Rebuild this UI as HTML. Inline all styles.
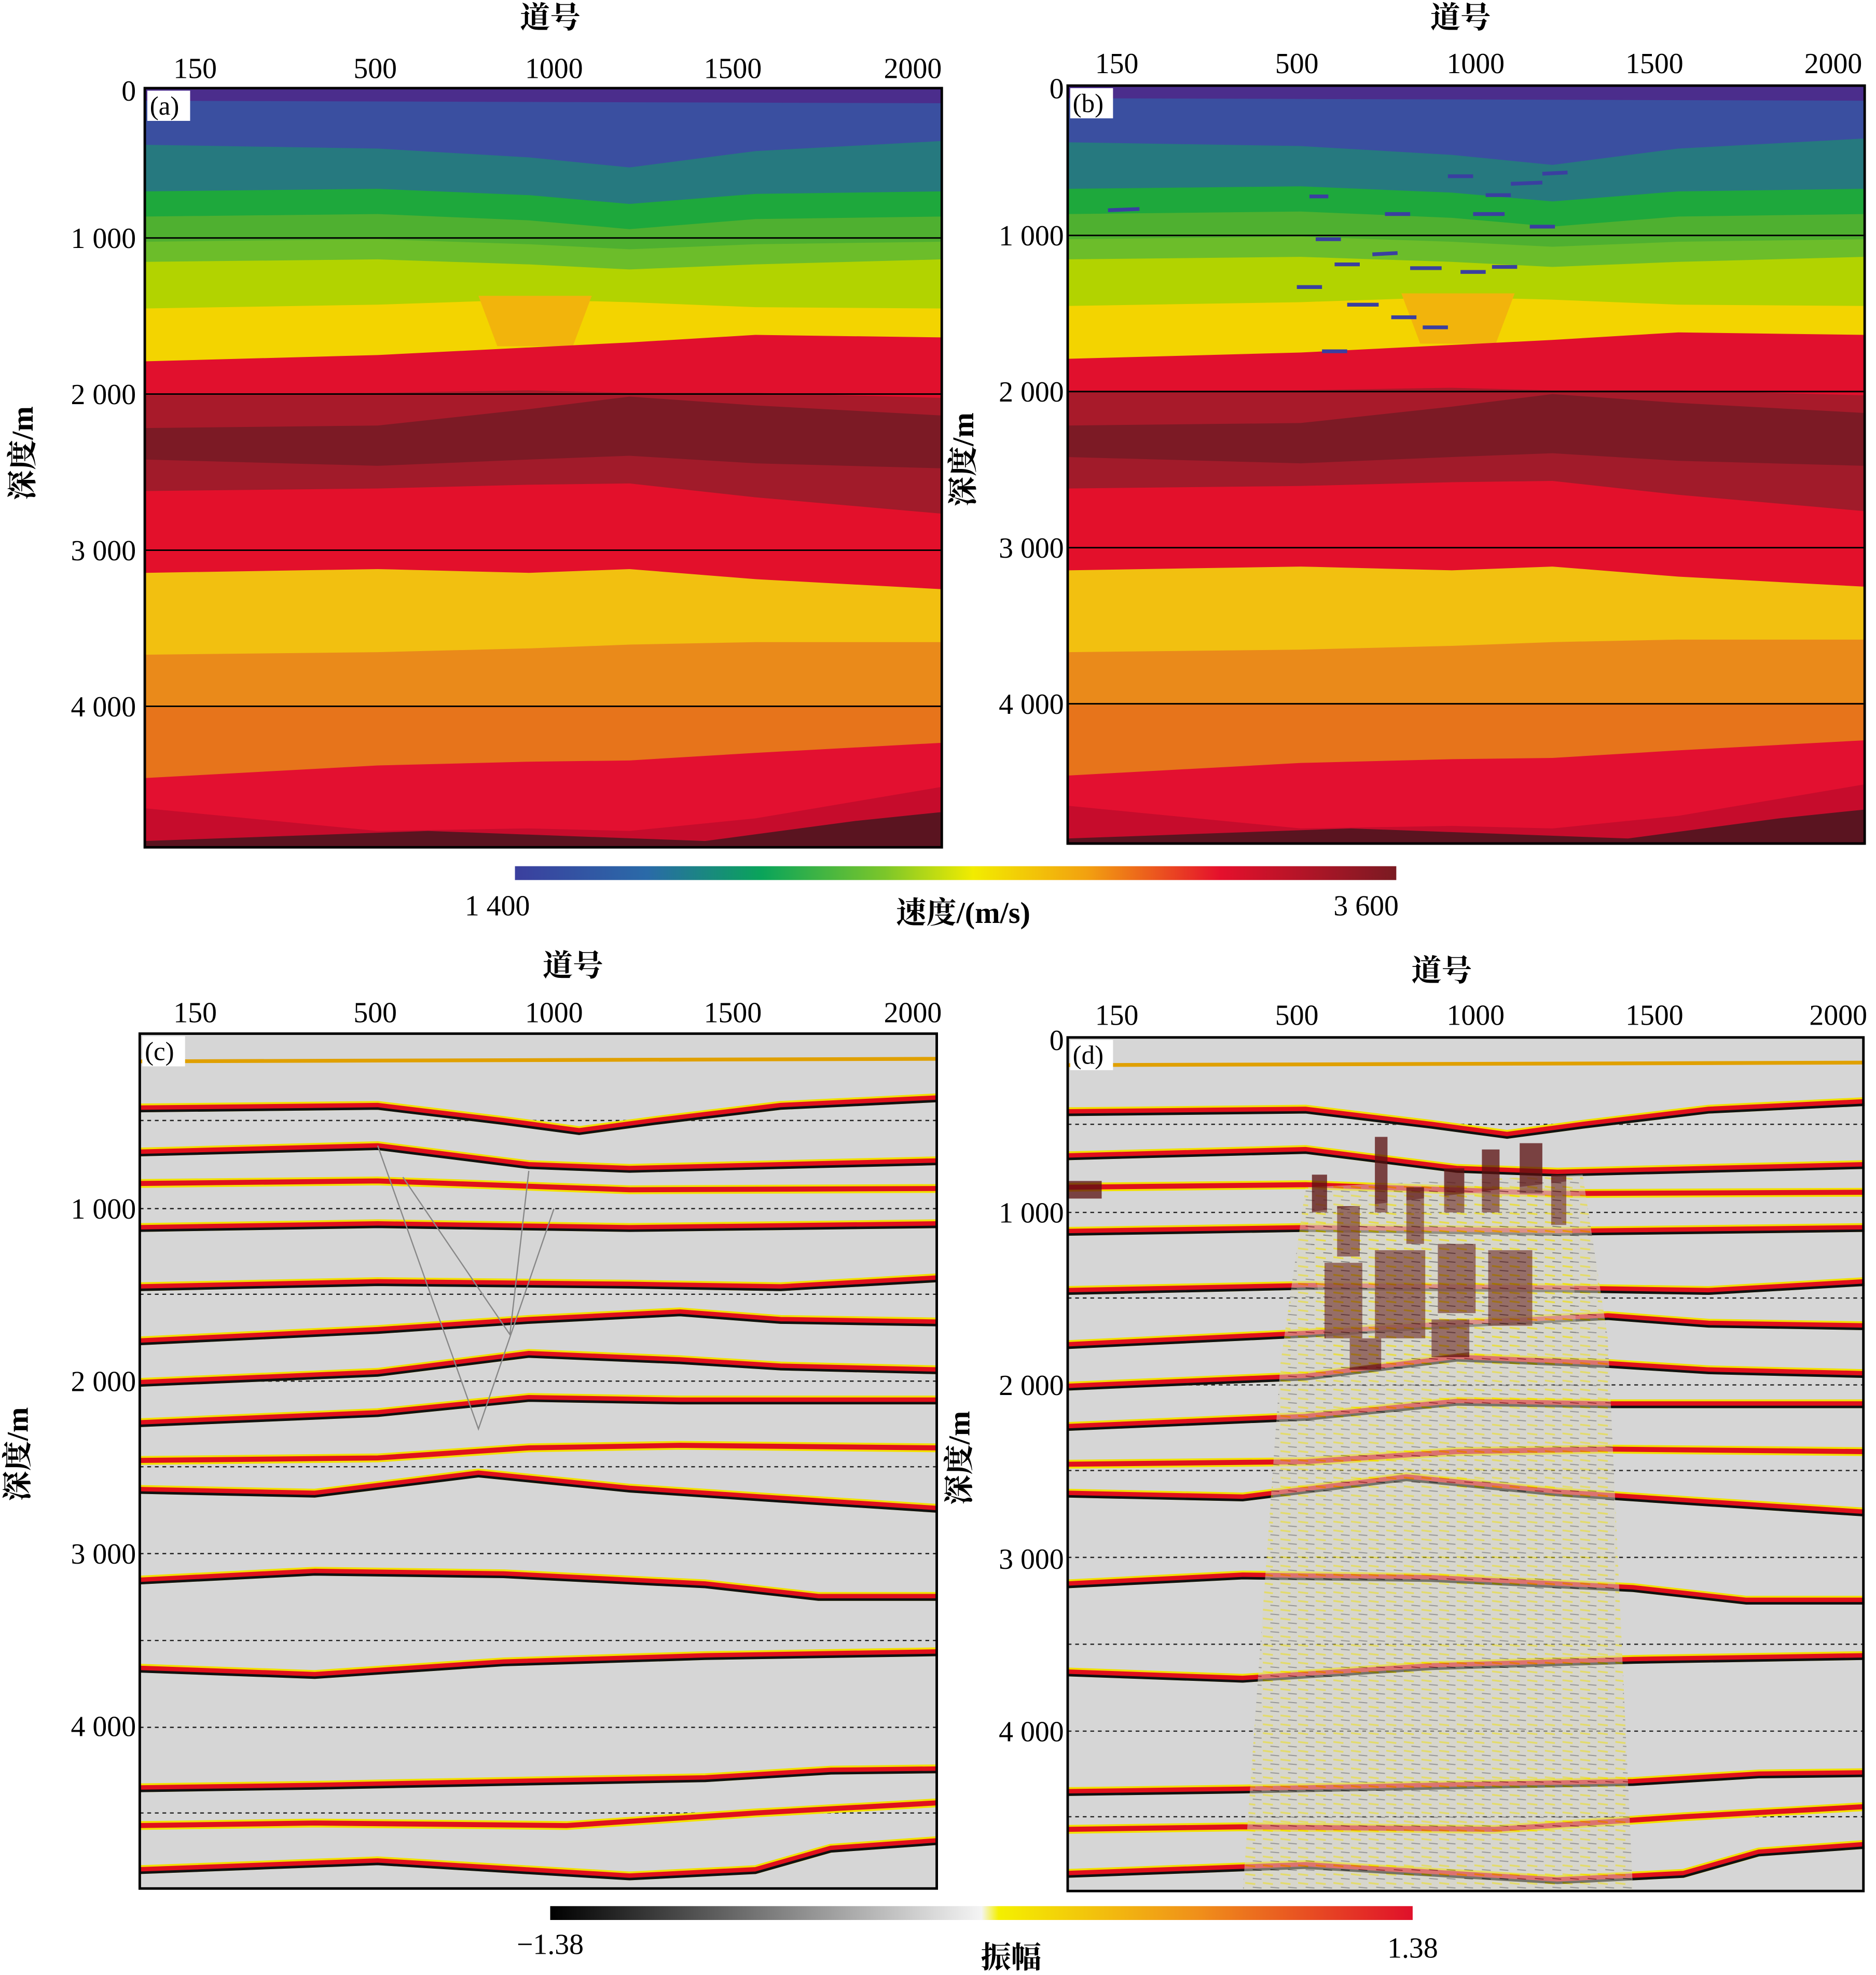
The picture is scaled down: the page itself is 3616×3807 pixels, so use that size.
<!DOCTYPE html>
<html><head><meta charset="utf-8"><style>
html,body{margin:0;padding:0;background:#fff}
svg{display:block}
text{font-family:"Liberation Serif","Noto Serif CJK SC",serif;fill:#000}
.cn{font-family:"Liberation Serif","Noto Serif CJK SC",serif;font-weight:bold}
</style></head><body>
<svg width="3616" height="3807" viewBox="0 0 1490 1568.7" xmlns="http://www.w3.org/2000/svg">
<defs>
<linearGradient id="vel" x1="0" x2="1" y1="0" y2="0">
<stop offset="0" stop-color="#3b3f9e"/><stop offset="0.15" stop-color="#2a6aa8"/><stop offset="0.28" stop-color="#0aa45a"/>
<stop offset="0.42" stop-color="#7cc62a"/><stop offset="0.52" stop-color="#f2ec00"/><stop offset="0.65" stop-color="#f2a010"/>
<stop offset="0.8" stop-color="#e5102c"/><stop offset="1" stop-color="#7a1a22"/></linearGradient>
<linearGradient id="amp" x1="0" x2="1" y1="0" y2="0">
<stop offset="0" stop-color="#000"/><stop offset="0.5" stop-color="#f4f4f4"/><stop offset="0.52" stop-color="#f4f000"/>
<stop offset="0.75" stop-color="#f0901a"/><stop offset="1" stop-color="#e0102a"/></linearGradient>
<pattern id="noise" width="14" height="7" patternUnits="userSpaceOnUse">
<rect width="14" height="7" fill="#d8d6c4"/>
<line x1="0" y1="1.5" x2="8" y2="2.5" stroke="#f0e000" stroke-width="1.4"/>
<line x1="6" y1="5" x2="13" y2="5.6" stroke="#555" stroke-width="0.8"/>
</pattern>
<clipPath id="ca"><rect x="115" y="70" width="633" height="603"/></clipPath>
<clipPath id="cc"><rect x="111" y="821" width="633" height="679"/></clipPath>
<g id="vmodel">
<rect x="115" y="70" width="633" height="603" fill="#4b2d8c"/>
<path d="M115,80 L748,82 L748,673 L115,673Z" fill="#3a4fa0"/>
<path d="M115,115 L300,118 L420,125 L500,133 L600,120 L748,112 L748,673 L115,673Z" fill="#26797f"/>
<path d="M115,152 L300,150 L420,155 L500,162 L600,154 L748,152 L748,673 L115,673Z" fill="#1ea83c"/>
<path d="M115,172 L300,170 L420,175 L500,182 L600,174 L748,172 L748,673 L115,673Z" fill="#4fb030"/>
<path d="M115,192 L300,190 L420,194 L500,198 L600,194 L748,192 L748,673 L115,673Z" fill="#6cbd2a"/>
<path d="M115,208 L300,206 L420,210 L500,214 L600,210 L748,206 L748,673 L115,673Z" fill="#b2d300"/>
<path d="M115,245 L300,242 L420,238 L500,240 L600,244 L748,245 L748,673 L115,673Z" fill="#f3d400"/>
<path d="M380,235 L470,235 L455,275 L395,275Z" fill="#f2b40c"/>
<path d="M115,287 L300,282 L420,276 L500,272 L600,266 L748,268 L748,673 L115,673Z" fill="#e1102d"/>
<path d="M115,313 L300,312 L420,310 L500,312 L600,312 L748,316 L748,673 L115,673Z" fill="#a81a2a"/>
<path d="M115,340 L300,338 L420,325 L500,315 L600,322 L748,330 L748,673 L115,673Z" fill="#7c1a25"/>
<path d="M115,365 L300,370 L420,365 L500,362 L600,368 L748,372 L748,673 L115,673Z" fill="#a11b2a"/>
<path d="M115,390 L300,388 L420,385 L500,384 L600,395 L748,408 L748,673 L115,673Z" fill="#e3102b"/>
<path d="M115,455 L300,452 L420,455 L500,452 L600,460 L748,468 L748,673 L115,673Z" fill="#f2c010"/>
<path d="M115,520 L300,518 L420,515 L500,512 L600,510 L748,510 L748,673 L115,673Z" fill="#ea8a1a"/>
<path d="M115,562 L748,560 L748,673 L115,673Z" fill="#e7741b"/>
<path d="M115,618 L300,608 L420,605 L500,604 L600,598 L748,590 L748,673 L115,673Z" fill="#e31030"/>
<path d="M115,642 L300,660 L420,658 L500,660 L600,650 L748,625 L748,673 L115,673Z" fill="#c60c2c"/>
<path d="M115,668 L340,660 L560,668 L680,652 L748,645 L748,673 L115,673Z" fill="#5a1420"/>
</g>
<g id="refl" fill="none">
<g stroke="#f2e000" stroke-width="7">
<path id="r1" d="M111,880 L300,878 L400,890 L460,898 L520,890 L620,878 L744,872"/>
<path id="r2" d="M111,915 L300,910 L420,925 L500,928 L620,925 L744,922"/>
<path id="r3" d="M111,940 L300,938 L500,945 L744,944"/>
<path id="r4" d="M111,975 L300,972 L500,975 L744,972"/>
<path id="r5" d="M111,1022 L300,1018 L500,1020 L620,1022 L744,1015"/>
<path id="r6" d="M111,1065 L300,1056 L420,1048 L540,1042 L620,1048 L744,1050"/>
<path id="r7" d="M111,1098 L300,1090 L420,1075 L540,1080 L620,1085 L744,1088"/>
<path id="r8" d="M111,1130 L300,1122 L420,1110 L540,1112 L744,1112"/>
<path id="r9" d="M111,1160 L300,1158 L420,1150 L540,1148 L744,1150"/>
<path id="r10" d="M111,1183 L250,1186 L380,1170 L500,1182 L620,1190 L744,1198"/>
<path id="r11" d="M111,1255 L250,1248 L400,1250 L560,1258 L650,1268 L744,1268"/>
<path id="r12" d="M111,1325 L250,1330 L400,1320 L560,1315 L744,1312"/>
<path id="r13" d="M111,1420 L250,1418 L400,1415 L560,1412 L660,1406 L744,1405"/>
<path id="r14" d="M111,1450 L250,1448 L450,1450 L600,1440 L744,1432"/>
<path id="r15" d="M111,1485 L300,1478 L500,1490 L600,1485 L660,1468 L744,1462"/>
</g>
<g stroke="#e0101c" stroke-width="4"><use href="#r1"/><use href="#r2"/><use href="#r3"/><use href="#r4"/><use href="#r5"/><use href="#r6"/><use href="#r7"/><use href="#r8"/><use href="#r9"/><use href="#r10"/><use href="#r11"/><use href="#r12"/><use href="#r13"/><use href="#r14"/><use href="#r15"/></g>
<g stroke="#111" stroke-width="2" transform="translate(0,2.5)"><use href="#r1"/><use href="#r2"/><use href="#r4"/><use href="#r5"/><use href="#r6"/><use href="#r7"/><use href="#r8"/><use href="#r10"/><use href="#r11"/><use href="#r12"/><use href="#r13"/><use href="#r15"/></g>
<path d="M111,843 L744,841" stroke="#e0a000" stroke-width="3"/>
</g>
<g id="dash" stroke="#222" stroke-width="1" stroke-dasharray="3,3">
<line x1="111" y1="890" x2="744" y2="890"/><line x1="111" y1="960" x2="744" y2="960"/><line x1="111" y1="1028" x2="744" y2="1028"/>
<line x1="111" y1="1097" x2="744" y2="1097"/><line x1="111" y1="1165" x2="744" y2="1165"/><line x1="111" y1="1234" x2="744" y2="1234"/>
<line x1="111" y1="1303" x2="744" y2="1303"/><line x1="111" y1="1372" x2="744" y2="1372"/><line x1="111" y1="1440" x2="744" y2="1440"/>
</g>
</defs>

<use href="#vmodel" clip-path="url(#ca)"/>
<g stroke="#000" stroke-width="1.2"><line x1="115" y1="189" x2="748" y2="189"/><line x1="115" y1="313" x2="748" y2="313"/><line x1="115" y1="437" x2="748" y2="437"/><line x1="115" y1="561" x2="748" y2="561"/></g>
<rect x="115" y="70" width="633" height="603" fill="none" stroke="#000" stroke-width="2"/>
<rect x="117" y="72" width="34" height="24" fill="#fff"/><text x="119" y="91" font-size="21">(a)</text>
<g font-size="23" text-anchor="middle"><text x="155" y="62">150</text><text x="298" y="62">500</text><text x="440" y="62">1000</text><text x="582" y="62">1500</text><text x="725" y="62">2000</text></g>
<g font-size="23" text-anchor="end"><text x="108" y="80">0</text><text x="108" y="197">1 000</text><text x="108" y="321">2 000</text><text x="108" y="445">3 000</text><text x="108" y="569">4 000</text></g>
<text class="cn" x="437" y="22" font-size="24" text-anchor="middle">道号</text>
<text class="cn" font-size="24" text-anchor="middle" transform="translate(26,360) rotate(-90)">深度/m</text>

<g transform="translate(733,-2)"><use href="#vmodel" clip-path="url(#ca)"/></g>
<g stroke="#3a3fa0" stroke-width="3">
<line x1="880" y1="167" x2="905" y2="166"/><line x1="1040" y1="156" x2="1055" y2="156"/><line x1="1150" y1="140" x2="1170" y2="140"/>
<line x1="1200" y1="146" x2="1225" y2="145"/><line x1="1225" y1="138" x2="1245" y2="137"/><line x1="1045" y1="190" x2="1065" y2="190"/>
<line x1="1090" y1="202" x2="1110" y2="201"/><line x1="1120" y1="213" x2="1145" y2="213"/><line x1="1060" y1="210" x2="1080" y2="210"/>
<line x1="1030" y1="228" x2="1050" y2="228"/><line x1="1070" y1="242" x2="1095" y2="242"/><line x1="1105" y1="252" x2="1125" y2="252"/>
<line x1="1160" y1="216" x2="1180" y2="216"/><line x1="1185" y1="212" x2="1205" y2="212"/><line x1="1215" y1="180" x2="1235" y2="180"/>
<line x1="1170" y1="170" x2="1195" y2="170"/><line x1="1050" y1="279" x2="1070" y2="279"/><line x1="1130" y1="260" x2="1150" y2="260"/>
<line x1="1100" y1="170" x2="1120" y2="170"/><line x1="1180" y1="155" x2="1200" y2="155"/></g>
<g stroke="#000" stroke-width="1.2"><line x1="848" y1="187" x2="1481" y2="187"/><line x1="848" y1="311" x2="1481" y2="311"/><line x1="848" y1="435" x2="1481" y2="435"/><line x1="848" y1="559" x2="1481" y2="559"/></g>
<rect x="848" y="68" width="633" height="602" fill="none" stroke="#000" stroke-width="2"/>
<rect x="850" y="70" width="34" height="24" fill="#fff"/><text x="852" y="89" font-size="21">(b)</text>
<g font-size="23" text-anchor="middle"><text x="887" y="58">150</text><text x="1030" y="58">500</text><text x="1172" y="58">1000</text><text x="1314" y="58">1500</text><text x="1456" y="58">2000</text></g>
<g font-size="23" text-anchor="end"><text x="845" y="78">0</text><text x="845" y="195">1 000</text><text x="845" y="319">2 000</text><text x="845" y="443">3 000</text><text x="845" y="567">4 000</text></g>
<text class="cn" x="1160" y="22" font-size="24" text-anchor="middle">道号</text>
<text class="cn" font-size="24" text-anchor="middle" transform="translate(773,365) rotate(-90)">深度/m</text>

<rect x="409" y="688" width="700" height="11" fill="url(#vel)"/>
<g font-size="23"><text x="395" y="727" text-anchor="middle">1 400</text><text x="1085" y="727" text-anchor="middle">3 600</text></g>
<text class="cn" x="765" y="733" font-size="24" text-anchor="middle">速度/(m/s)</text>

<g clip-path="url(#cc)">
<rect x="111" y="821" width="633" height="679" fill="#d6d6d6"/>
<use href="#dash"/>
<use href="#refl"/>
<path d="M300,910 L380,1135 L440,960 M320,935 L405,1060 L420,930" stroke="#888" stroke-width="1" fill="none"/>
</g>
<rect x="111" y="821" width="633" height="679" fill="none" stroke="#000" stroke-width="2"/>
<rect x="113" y="823" width="34" height="24" fill="#fff"/><text x="115" y="842" font-size="21">(c)</text>
<g font-size="23" text-anchor="middle"><text x="155" y="812">150</text><text x="298" y="812">500</text><text x="440" y="812">1000</text><text x="582" y="812">1500</text><text x="725" y="812">2000</text></g>
<g font-size="23" text-anchor="end"><text x="108" y="968">1 000</text><text x="108" y="1105">2 000</text><text x="108" y="1242">3 000</text><text x="108" y="1379">4 000</text></g>
<text class="cn" x="455" y="775" font-size="24" text-anchor="middle">道号</text>
<text class="cn" font-size="24" text-anchor="middle" transform="translate(22,1155) rotate(-90)">深度/m</text>

<g transform="translate(737,3)"><g clip-path="url(#cc)">
<rect x="111" y="821" width="633" height="679" fill="#d6d6d6"/>
<use href="#dash"/>
<use href="#refl"/>
<path d="M300,940 L520,930 L540,1060 L560,1500 L250,1500 L280,1080Z" fill="url(#noise)" opacity="0.5"/>
<g fill="#5a1010" opacity="0.75">
<rect x="305" y="930" width="12" height="30"/><rect x="325" y="955" width="18" height="40"/><rect x="355" y="900" width="10" height="60"/>
<rect x="380" y="940" width="14" height="45"/><rect x="410" y="925" width="16" height="35"/><rect x="440" y="910" width="14" height="50"/>
<rect x="470" y="905" width="18" height="40"/><rect x="495" y="930" width="12" height="40"/>
<rect x="315" y="1000" width="30" height="60"/><rect x="355" y="990" width="40" height="70"/><rect x="405" y="985" width="30" height="55"/>
<rect x="445" y="990" width="35" height="60"/><rect x="335" y="1060" width="25" height="25"/><rect x="400" y="1045" width="30" height="30"/>
<rect x="110" y="935" width="28" height="14"/>
</g>
<path d="M300,960 L510,935 L515,1060 L320,1085Z" fill="url(#noise)" opacity="0.3"/>
</g></g>
<rect x="848" y="824" width="632" height="678" fill="none" stroke="#000" stroke-width="2"/>
<rect x="850" y="826" width="34" height="24" fill="#fff"/><text x="852" y="845" font-size="21">(d)</text>
<g font-size="23" text-anchor="middle"><text x="887" y="814">150</text><text x="1030" y="814">500</text><text x="1172" y="814">1000</text><text x="1314" y="814">1500</text><text x="1460" y="814">2000</text></g>
<g font-size="23" text-anchor="end"><text x="845" y="834">0</text><text x="845" y="971">1 000</text><text x="845" y="1108">2 000</text><text x="845" y="1246">3 000</text><text x="845" y="1383">4 000</text></g>
<text class="cn" x="1145" y="779" font-size="24" text-anchor="middle">道号</text>
<text class="cn" font-size="24" text-anchor="middle" transform="translate(770,1158) rotate(-90)">深度/m</text>

<rect x="437" y="1514" width="685" height="11" fill="url(#amp)"/>
<g font-size="23" text-anchor="middle"><text x="437" y="1552">−1.38</text><text x="1122" y="1555">1.38</text></g>
<text class="cn" x="803" y="1563" font-size="24" text-anchor="middle">振幅</text>
</svg>
</body></html>
